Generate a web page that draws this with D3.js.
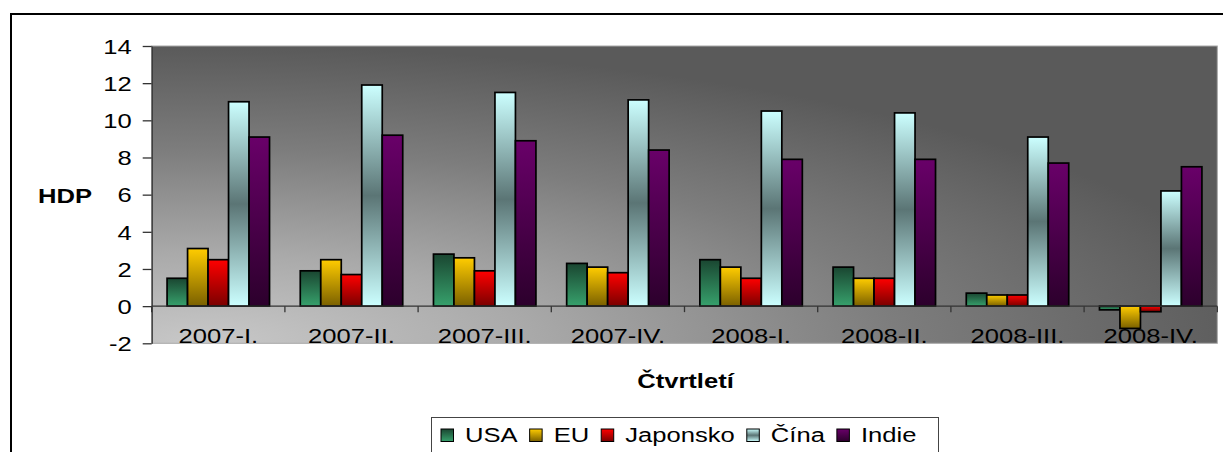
<!DOCTYPE html>
<html>
<head>
<meta charset="utf-8">
<script src="https://cdn.jsdelivr.net/npm/d3@7/dist/d3.min.js"></script>
<style>
  body { margin: 0; background: #fff; }
  text { font-family: "Liberation Sans", Arial, sans-serif; }
</style>
</head>
<body>
<svg id="chart"></svg>
<script>
// data
var categories = ["2007-I.", "2007-II.", "2007-III.", "2007-IV.", "2008-I.", "2008-II.", "2008-III.", "2008-IV."]
var seriesNames = ["USA", "EU", "Japonsko", "Čína", "Indie"]
var usa   = [1.5, 1.9, 2.8, 2.3, 2.5, 2.1, 0.7, -0.2]
var eu    = [3.1, 2.5, 2.6, 2.1, 2.1, 1.5, 0.6, -1.2]
var japan = [2.5, 1.7, 1.9, 1.8, 1.5, 1.5, 0.6, -0.3]
var china = [11.0, 11.9, 11.5, 11.1, 10.5, 10.4, 9.1, 6.2]
var india = [9.1, 9.2, 8.9, 8.4, 7.9, 7.9, 7.7, 7.5]
var yTicks = [-2, 0, 2, 4, 6, 8, 10, 12, 14]

var series = [usa, eu, japan, china, india]

// gradient fills per series (top -> bottom)
var fills = [
    [[0, '#1a4631'], [1, '#37a16c']],
    [[0, '#ffcc00'], [1, '#7a6000']],
    [[0, '#ff0000'], [1, '#7a0000']],
    [[0, '#ccffff'], [0.5, '#5b7575'], [1, '#ccffff']],
    [[0, '#690069'], [1, '#2c002c']]
]

var width = 1223,
    height = 452
var margin = {top: 46, right: 5.7, bottom: 108.7, left: 151.7}
var plotW = width - margin.left - margin.right
var plotH = height - margin.top - margin.bottom
var sx = 1.28   // text in the picture is horizontally stretched

var svg = d3.select('#chart')
    .attr('width', width)
    .attr('height', height)

var defs = svg.append('defs')

fills.forEach(function(stops, i){
    var g = defs.append('linearGradient')
        .attr('id', 'fill' + i)
        .attr('x1', 0).attr('y1', 0).attr('x2', 0).attr('y2', 1)
    stops.forEach(function(s){
        g.append('stop').attr('offset', s[0]).attr('stop-color', s[1])
    })
})

var bg = defs.append('radialGradient')
    .attr('id', 'plotBg')
    .attr('cx', 0.05).attr('cy', 1).attr('r', 1.0)
    .attr('fx', 0.05).attr('fy', 1)
;[[0, '#c8c8c8'], [0.3, '#aaaaaa'], [0.65, '#7d7d7d'], [1, '#5a5a5a']].forEach(function(s){
    bg.append('stop').attr('offset', s[0]).attr('stop-color', s[1])
})

// outer frame
svg.append('rect')
    .attr('x', 11).attr('y', 14)
    .attr('width', width + 20).attr('height', height + 20)
    .style('fill', 'none')
    .style('stroke', '#000')
    .style('stroke-width', 2)

var g = svg.append('g')
    .attr('transform', 'translate(' + margin.left + ', ' + margin.top + ')')

g.append('rect')
    .attr('width', plotW).attr('height', plotH)
    .style('fill', 'url(#plotBg)')
    .style('stroke', '#a8a8a8')
    .style('stroke-width', 1)

var x0 = d3.scaleBand()
    .domain(categories)
    .range([0, plotW])
    .paddingInner(0.2308)
    .paddingOuter(0.1154)

var x1 = d3.scaleBand()
    .domain(d3.range(seriesNames.length))
    .range([0, x0.bandwidth()])

var yScale = d3.scaleLinear()
    .domain([-2, 14])
    .range([plotH, 0])

// bars
var groups = g.selectAll('g.cat')
    .data(categories)
    .enter()
    .append('g')
    .attr('class', 'cat')
    .attr('transform', function(d){ return 'translate(' + x0(d) + ',0)' })

groups.selectAll('rect')
    .data(function(d, ci){
        return series.map(function(s, si){ return {si: si, v: s[ci]} })
    })
    .enter()
    .append('rect')
    .attr('x', function(d){ return x1(d.si) })
    .attr('y', function(d){ return yScale(Math.max(0, d.v)) })
    .attr('width', x1.bandwidth())
    .attr('height', function(d){ return Math.abs(yScale(d.v) - yScale(0)) })
    .style('fill', function(d){ return 'url(#fill' + d.si + ')' })
    .style('stroke', '#000')
    .style('stroke-width', 1.7)

// y axis
var yAxis = d3.axisLeft(yScale)
    .tickValues(yTicks)
    .tickFormat(function(d){ return String(d) })
    .tickSize(9)
    .tickSizeOuter(0)
var yAxisG = g.append('g').call(yAxis)
yAxisG.select('.domain').style('stroke', '#333').style('stroke-width', 1.3)
yAxisG.selectAll('.tick line').style('stroke', '#333').style('stroke-width', 1.3)
yAxisG.selectAll('.tick text')
    .attr('x', -20 / sx)
    .attr('dy', '0.36em')
    .attr('transform', 'scale(' + sx + ',1)')
    .style('font-size', '20px')
    .style('font-family', '"Liberation Sans", Arial, sans-serif')
    .style('fill', '#000')

// zero line and category ticks
g.append('line')
    .attr('x1', 0).attr('x2', plotW)
    .attr('y1', yScale(0)).attr('y2', yScale(0))
    .style('stroke', '#333')
    .style('stroke-width', 1.3)

g.selectAll('line.ctick')
    .data(d3.range(categories.length + 1))
    .enter()
    .append('line')
    .attr('class', 'ctick')
    .attr('x1', function(i){ return i * x0.step() })
    .attr('x2', function(i){ return i * x0.step() })
    .attr('y1', yScale(0))
    .attr('y2', yScale(0) + 6)
    .style('stroke', '#333')
    .style('stroke-width', 1.3)

g.selectAll('text.clabel')
    .data(categories)
    .enter()
    .append('text')
    .attr('class', 'clabel')
    .attr('transform', function(d){
        return 'translate(' + (x0(d) + x0.bandwidth() / 2) + ',' + (plotH - 0.5) + ') scale(' + sx + ',1)'
    })
    .attr('text-anchor', 'middle')
    .style('font-size', '20px')
    .text(function(d){ return d })

// axis titles
svg.append('text')
    .attr('transform', 'translate(65,203) scale(' + sx + ',1)')
    .attr('text-anchor', 'middle')
    .style('font-size', '20px')
    .style('font-weight', 'bold')
    .text('HDP')

svg.append('text')
    .attr('transform', 'translate(' + (margin.left + plotW / 2 + 1) + ',388) scale(' + sx + ',1)')
    .attr('text-anchor', 'middle')
    .style('font-size', '20px')
    .style('font-weight', 'bold')
    .text('Čtvrtletí')

// legend
var legend = svg.append('g')
legend.append('rect')
    .attr('x', 431.5).attr('y', 417.5)
    .attr('width', 507).attr('height', 60)
    .style('fill', '#fff')
    .style('stroke', '#444')
    .style('stroke-width', 1)

var lx = 441
seriesNames.forEach(function(name, i){
    legend.append('rect')
        .attr('x', lx).attr('y', 429)
        .attr('width', 12.5).attr('height', 12.5)
        .style('fill', 'url(#fill' + i + ')')
        .style('stroke', '#000')
        .style('stroke-width', 1)
    var t = legend.append('text')
        .attr('transform', 'translate(' + (lx + 24) + ',441.5) scale(' + sx + ',1)')
        .style('font-size', '20px')
        .text(name)
    lx = lx + 24 + t.node().getComputedTextLength() * sx + 12
})
</script>
</body>
</html>
